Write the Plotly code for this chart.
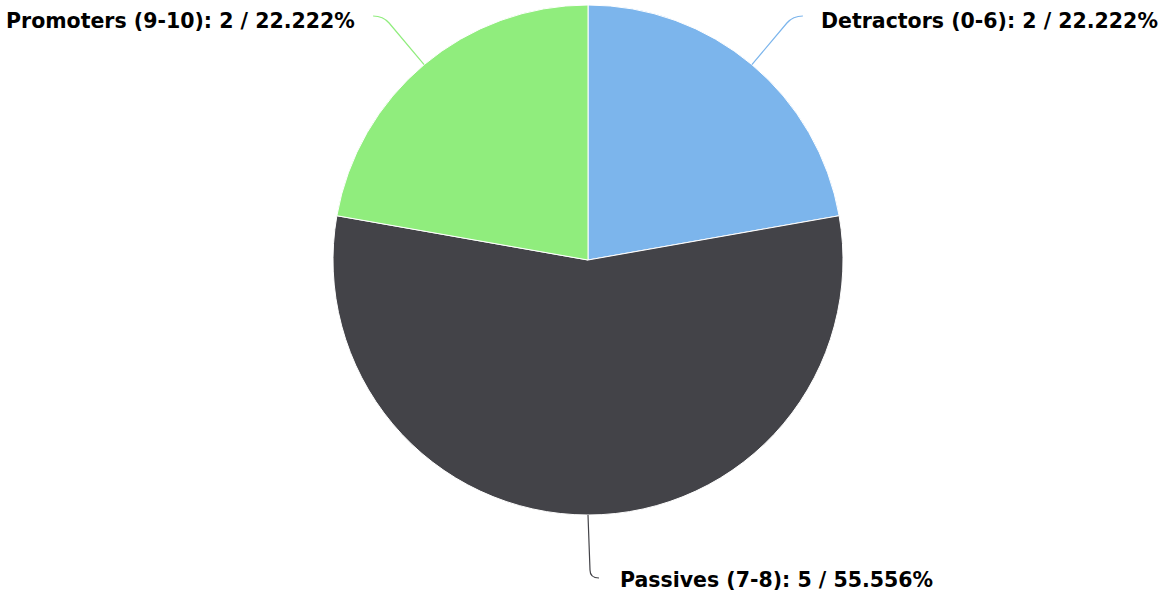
import math
import plotly.graph_objects as go

# ---- data ----
categories = ["Detractors (0-6)", "Passives (7-8)", "Promoters (9-10)"]
counts = [2, 5, 2]
colors = ["#7cb5ec", "#434348", "#90ed7d"]

W, H = 1168, 594
CX, CY, R = 588, 260, 255  # pie centre/radius in pixels
FS = 20.5

total = sum(counts)
fig = go.Figure()
fig.add_trace(go.Pie(
    labels=categories, values=counts, sort=False, direction="clockwise", rotation=0,
    marker=dict(colors=colors, line=dict(color="#ffffff", width=1)),
    textinfo="none", hoverinfo="label+value+percent", showlegend=False,
    domain=dict(x=[(CX - R) / W, (CX + R) / W], y=[1 - (CY + R) / H, 1 - (CY - R) / H]),
))

# invisible axes spanning the whole figure in pixel units, used for labels/connectors
fig.add_trace(go.Scatter(x=[0, W], y=[0, H], mode="markers", marker=dict(opacity=0),
                         hoverinfo="skip", showlegend=False))

shapes, annotations = [], []
cum = 0
for name, v, col in zip(categories, counts, colors):
    mid = (cum + v / 2) / total * 2 * math.pi
    cum += v
    sx, sy = math.sin(mid), -math.cos(mid)
    px, py = CX + R * sx, CY + R * sy
    pct = v / total * 100
    text = f"<b>{name}: {v} / {pct:.3f}%</b>"
    if sy < -0.5:  # top labels
        ly = 21
        ky = ly + 2
        t = (py - ky) / (-sy)
        kx = px + sx * t
        d = 1 if sx > 0 else -1
        ex = kx + d * 16
        path = f"M {px:.1f} {py:.1f} L {kx:.1f} {ky:.1f} Q {kx + d * 6:.1f} {ly - 5:.1f} {ex:.1f} {ly - 5:.1f}"
        lx = ex + d * 16
        annotations.append(dict(x=lx, y=ly, xref="x", yref="y", text=text, showarrow=False,
                                xanchor="left" if d > 0 else "right", yanchor="middle",
                                font=dict(family="DejaVu Sans", size=FS, color="#000")))
    else:  # bottom label
        ly = 580
        ky = ly - 10
        path = f"M {px:.1f} {py:.1f} L {px + 2:.1f} {ky:.1f} Q {px + 2:.1f} {ly - 2:.1f} {px + 11:.1f} {ly - 2:.1f}"
        annotations.append(dict(x=px + 30, y=ly, xref="x", yref="y", text=text, showarrow=False,
                                xanchor="left", yanchor="middle",
                                font=dict(family="DejaVu Sans", size=FS, color="#000")))
    shapes.append(dict(type="path", path=path, xref="x", yref="y",
                       line=dict(color=col, width=1.2)))

fig.update_layout(
    width=W, height=H, margin=dict(l=0, r=0, t=0, b=0),
    paper_bgcolor="#ffffff", plot_bgcolor="rgba(0,0,0,0)",
    xaxis=dict(range=[0, W], visible=False, fixedrange=True),
    yaxis=dict(range=[H, 0], visible=False, fixedrange=True),
    shapes=shapes, annotations=annotations,
)
fig.write_html("out.html")
